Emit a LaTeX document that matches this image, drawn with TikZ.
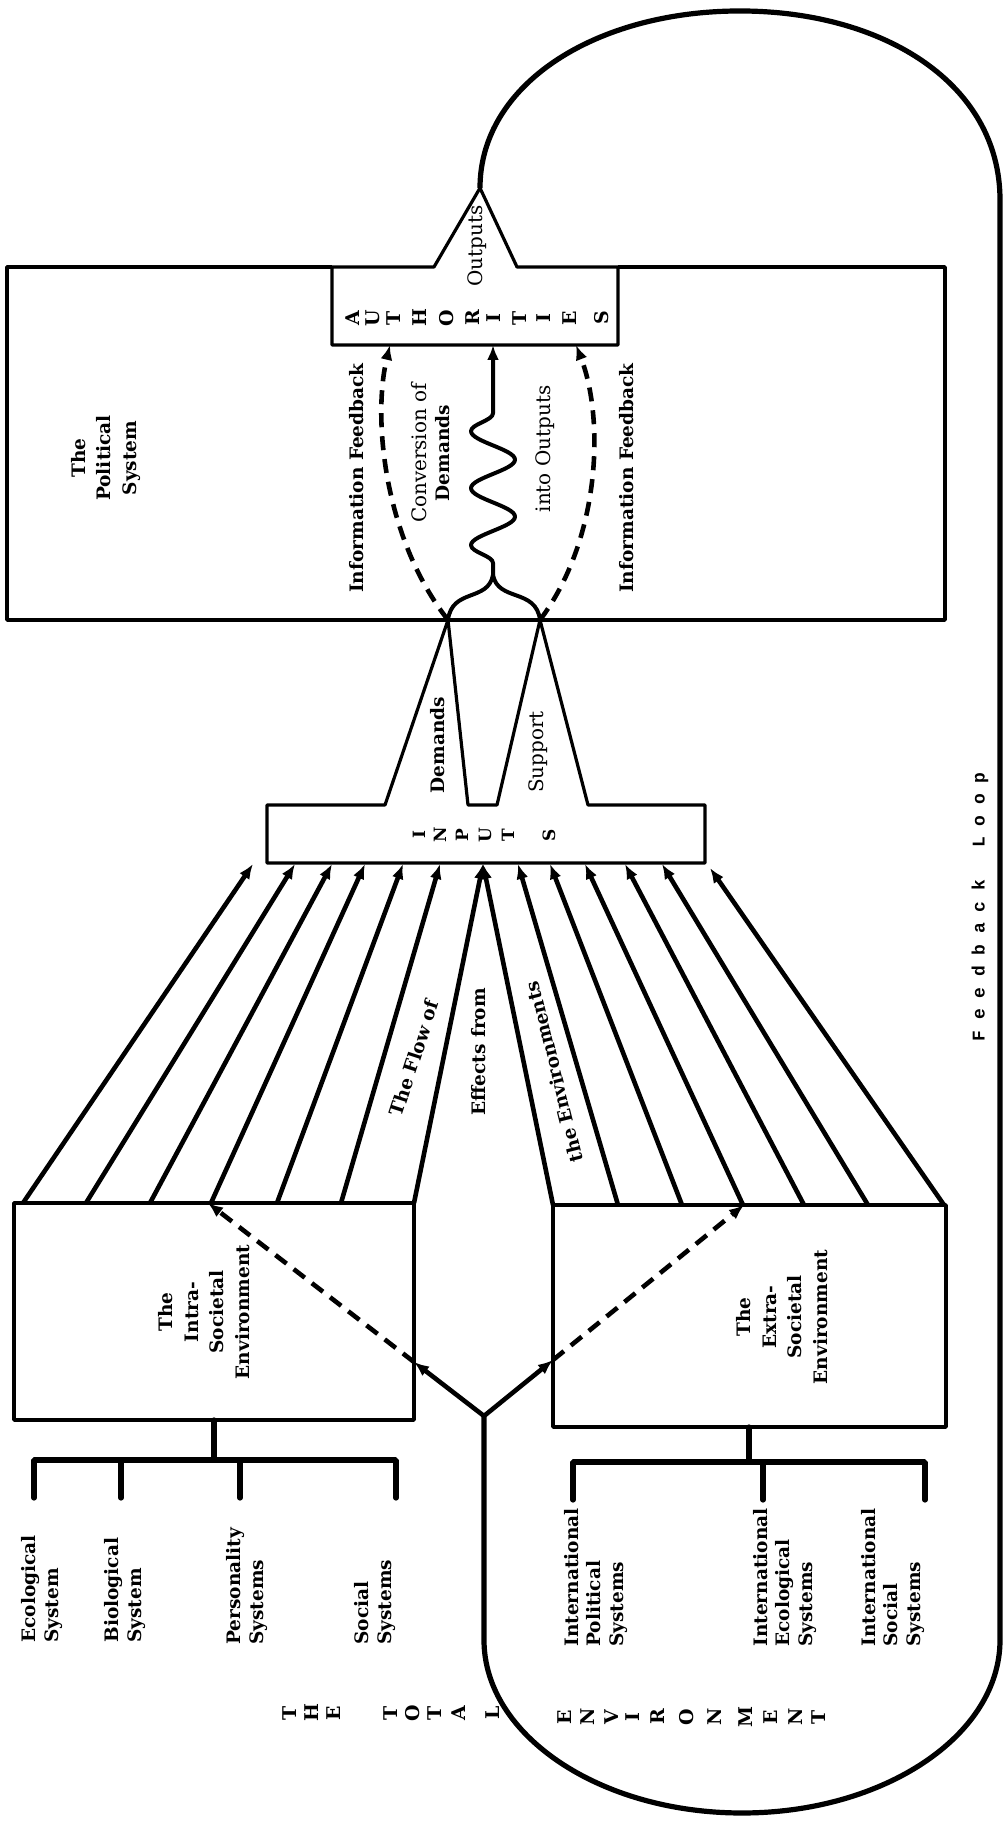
\documentclass[tikz,border=0pt]{standalone}
\usepackage{fontspec}
\setmainfont{DejaVu Serif}
\newfontfamily\loopfont{Liberation Mono}
\usetikzlibrary{arrows.meta,decorations.pathmorphing}

\begin{document}
\begin{tikzpicture}[>={Latex[length=7.5bp,width=6bp]},line join=bevel,
  boxline/.style={line width=1.6bp},
  loopline/.style={line width=2.6bp},
  flow/.style={->,line width=2.3bp},
  fbdash/.style={->,line width=2.3bp,dash pattern=on 7bp off 4.5bp},
  bracket/.style={line width=2.6bp,line cap=round},
  lbl/.style={inner sep=0pt,align=center,font=\fontsize{9.3}{11.5}\selectfont\bfseries},
  thinlbl/.style={inner sep=0pt,align=center,font=\fontsize{10}{11.5}\selectfont},
  sidelbl/.style={lbl,rotate=90,anchor=west,align=left},
  boxlbl/.style={lbl,rotate=90,font=\fontsize{9.3}{12.8}\selectfont\bfseries},
  bigcap/.style={inner sep=0pt,rotate=90,font=\fontsize{9.5}{9.5}\selectfont\bfseries},
  smallcap/.style={inner sep=0pt,rotate=90,font=\fontsize{8.5}{8.5}\selectfont\bfseries},
]
  \useasboundingbox (0bp,0bp) rectangle (502bp,913bp);
%%
  % Node: polsys
  \draw [boxline] (166bp,779.5bp) -- (3.5bp,779.5bp) -- (3.5bp,603bp) -- (472.5bp,603bp) -- (472.5bp,779.5bp) -- (309bp,779.5bp);
  \node [boxlbl] (polsys) at (53bp,684bp) {The\\Political\\System};
  % Node: auth
  \coordinate (outapex) at (240bp,819bp);
  \draw [boxline] (outapex) -- (258.5bp,779.5bp) -- (309bp,779.5bp) -- (309bp,740.5bp) -- (166bp,740.5bp) -- (166bp,779.5bp) -- (217bp,779.5bp) -- cycle;
  \node [bigcap] (au1) at (176.5bp,754bp) {A};
  \node [bigcap] (au2) at (186.5bp,754bp) {U};
  \node [bigcap] (au3) at (197bp,754bp) {T};
  \node [bigcap] (au4) at (210bp,754bp) {H};
  \node [bigcap] (au5) at (223.5bp,754bp) {O};
  \node [bigcap] (au6) at (236.5bp,754bp) {R};
  \node [bigcap] (au7) at (247bp,754bp) {I};
  \node [bigcap] (au8) at (260bp,754bp) {T};
  \node [bigcap] (au9) at (272bp,754bp) {I};
  \node [bigcap] (au10) at (285bp,754bp) {E};
  \node [bigcap] (au11) at (301bp,754bp) {S};
  \node [thinlbl,rotate=90] (outlbl) at (238.5bp,790bp) {Outputs};
  % Node: inputs
  \coordinate (dapex) at (224bp,603bp);
  \coordinate (sapex) at (270bp,603bp);
  \draw [boxline] (133.5bp,481.5bp) -- (133.5bp,510.5bp) -- (192.5bp,510.5bp) -- (dapex) -- (234bp,510.5bp) -- (248.5bp,510.5bp) -- (sapex) -- (294bp,510.5bp) -- (352.5bp,510.5bp) -- (352.5bp,481.5bp) -- cycle;
  \node [smallcap] (in1) at (209.5bp,495.5bp) {I};
  \node [smallcap] (in2) at (220bp,495.5bp) {N};
  \node [smallcap] (in3) at (231bp,495.5bp) {P};
  \node [smallcap] (in4) at (242.5bp,495.5bp) {U};
  \node [smallcap] (in5) at (254bp,495.5bp) {T};
  \node [smallcap] (in6) at (274.5bp,495.5bp) {S};
  \node [lbl,rotate=90] (demlbl) at (219bp,540.5bp) {Demands};
  \node [thinlbl,rotate=90] (suplbl) at (269bp,537bp) {Support};
  % Edge: inputs -> auth (conversion)
  \coordinate (junc) at (246.5bp,625.5bp);
  \coordinate (authconv) at (246.5bp,740.5bp);
  \coordinate (authfbl) at (195bp,740.5bp);
  \coordinate (authfbr) at (288bp,740.5bp);
  \draw [line width=2bp] (dapex) .. controls (226bp,619bp) and (244bp,612bp) .. (junc);
  \draw [line width=2bp] (sapex) .. controls (268bp,619bp) and (249bp,612bp) .. (junc);
  \draw [->,line width=2bp,decorate,decoration={snake,segment length=28.5bp,amplitude=11bp,pre length=6bp,post length=23.5bp}] (junc) -- (authconv);
  % Edge: inputs -> auth (feedback)
  \draw [fbdash] (dapex) .. controls (192.5bp,643bp) and (186bp,703bp) .. (authfbl);
  \draw [fbdash] (sapex) .. controls (300bp,643bp) and (302.5bp,703bp) .. (authfbr);
  \node [lbl,rotate=90] (infol) at (178.5bp,674bp) {Information Feedback};
  \node [lbl,rotate=90] (infor) at (313.5bp,674bp) {Information Feedback};
  \node [thinlbl,rotate=90] (convlbl) at (215.5bp,686.5bp) {Conversion of\\\textbf{\fontsize{9.3}{11.5}\selectfont Demands}};
  \node [thinlbl,rotate=90] (intolbl) at (272.5bp,688.5bp) {into Outputs};
  % Node: intra
  \draw [boxline] (7bp,311.5bp) rectangle (207bp,203bp);
  \node [boxlbl] (intralbl) at (102bp,257bp) {The\\Intra-\\Societal\\Environment};
  % Node: extra
  \draw [boxline] (276.5bp,310.5bp) rectangle (473bp,199.5bp);
  \node [boxlbl] (extralbl) at (391bp,254.5bp) {The\\Extra-\\Societal\\Environment};
  % Edge: intra -> inputs
  \coordinate (ia1) at (11.5bp,311.5bp);   \coordinate (ib1) at (126.5bp,481bp);
  \coordinate (ia2) at (43bp,311.5bp);     \coordinate (ib2) at (147.5bp,481bp);
  \coordinate (ia3) at (75bp,311.5bp);     \coordinate (ib3) at (166bp,481bp);
  \coordinate (ia4) at (105.5bp,311.5bp);  \coordinate (ib4) at (182.5bp,481bp);
  \coordinate (ia5) at (138.5bp,311.5bp);  \coordinate (ib5) at (201.5bp,481bp);
  \coordinate (ia6) at (170.5bp,311.5bp);  \coordinate (ib6) at (220bp,481bp);
  \coordinate (ia7) at (207bp,311.5bp);    \coordinate (inmid) at (241.5bp,481bp);
  \draw [flow] (ia1) -- (ib1);
  \draw [flow] (ia2) -- (ib2);
  \draw [flow] (ia3) -- (ib3);
  \draw [flow] (ia4) -- (ib4);
  \draw [flow] (ia5) -- (ib5);
  \draw [flow] (ia6) -- (ib6);
  \draw [flow] (ia7) -- (inmid);
  % Edge: extra -> inputs
  \coordinate (ea7) at (276.5bp,310.5bp);
  \coordinate (ea1) at (309bp,310.5bp);    \coordinate (eb1) at (259bp,481bp);
  \coordinate (ea2) at (341bp,310.5bp);    \coordinate (eb2) at (275bp,481bp);
  \coordinate (ea3) at (371.5bp,310.5bp);  \coordinate (eb3) at (292.5bp,481bp);
  \coordinate (ea4) at (402bp,310.5bp);    \coordinate (eb4) at (312.5bp,481bp);
  \coordinate (ea5) at (434bp,310.5bp);    \coordinate (eb5) at (331bp,481bp);
  \coordinate (ea6) at (472bp,310.5bp);    \coordinate (eb6) at (355bp,479bp);
  \draw [flow] (ea7) -- (inmid);
  \draw [flow] (ea1) -- (eb1);
  \draw [flow] (ea2) -- (eb2);
  \draw [flow] (ea3) -- (eb3);
  \draw [flow] (ea4) -- (eb4);
  \draw [flow] (ea5) -- (eb5);
  \draw [flow] (ea6) -- (eb6);
  \node [lbl,rotate=72] (flowlbl) at (207bp,384bp) {The Flow of};
  \node [lbl,rotate=90] (effectslbl) at (239.5bp,387bp) {Effects from};
  \node [lbl,rotate=104] (envlbl) at (277bp,377bp) {the Environments};
  % Edge: auth -> fork (feedback loop)
  \coordinate (fork) at (242bp,205bp);
  \draw [loopline] (outapex) .. controls (240bp,871bp) and (298bp,907.5bp) .. (370bp,907.5bp) .. controls (442bp,907.5bp) and (500bp,871bp) .. (500bp,813bp) -- (500bp,93bp) .. controls (500bp,45.3bp) and (442bp,6.5bp) .. (371bp,6.5bp) .. controls (300bp,6.5bp) and (242bp,45.3bp) .. (242bp,93bp) -- (fork);
  \node [rotate=90,inner sep=0pt,font=\loopfont\fontsize{9}{9}\selectfont\bfseries] (fbloop) at (490bp,459.5bp) {F e e d b a c k \ \ L o o p};
  % Edge: fork -> intra, fork -> extra
  \coordinate (intraedge) at (207bp,232bp);
  \coordinate (extraedge) at (276.5bp,233bp);
  \coordinate (intratop) at (104bp,311.5bp);
  \coordinate (extratop) at (372bp,310.5bp);
  \draw [flow] (fork) -- (intraedge);
  \draw [fbdash] (intraedge) -- (intratop);
  \draw [flow] (fork) -- (extraedge);
  \draw [fbdash] (extraedge) -- (extratop);
  % Node: intra subsystems
  \draw [bracket] (107bp,203bp) -- (107bp,183bp);
  \draw [bracket] (17bp,164bp) -- (17bp,183bp) -- (198bp,183bp) -- (198bp,164bp);
  \draw [bracket] (60.5bp,183bp) -- (60.5bp,164bp);
  \draw [bracket] (120bp,183bp) -- (120bp,164bp);
  \node [sidelbl] (eco) at (21bp,91.5bp) {Ecological\\System};
  \node [sidelbl] (bio) at (62.5bp,91.5bp) {Biological\\System};
  \node [sidelbl] (pers) at (123.5bp,90.5bp) {Personality\\Systems};
  \node [sidelbl] (soc) at (187.5bp,90.5bp) {Social\\Systems};
  % Node: extra subsystems
  \draw [bracket] (374.5bp,199.5bp) -- (374.5bp,182bp);
  \draw [bracket] (286.5bp,163bp) -- (286.5bp,182bp) -- (462.5bp,182bp) -- (462.5bp,163bp);
  \draw [bracket] (381.5bp,182bp) -- (381.5bp,163bp);
  \node [sidelbl] (intpol) at (298bp,89.5bp) {International\\Political\\Systems};
  \node [sidelbl] (inteco) at (392.5bp,89.5bp) {International\\Ecological\\Systems};
  \node [sidelbl] (intsoc) at (446.5bp,89.5bp) {International\\Social\\Systems};
  % Node: total environment
  \node [bigcap] (te1) at (145bp,56.5bp) {T};
  \node [bigcap] (te2) at (156bp,56.5bp) {H};
  \node [bigcap] (te3) at (167bp,56.5bp) {E};
  \node [bigcap] (te4) at (195.5bp,56.5bp) {T};
  \node [bigcap] (te5) at (206.5bp,56.5bp) {O};
  \node [bigcap] (te6) at (217.5bp,56.5bp) {T};
  \node [bigcap] (te7) at (229.5bp,56.5bp) {A};
  \node [bigcap] (te8) at (246.5bp,56.5bp) {L};
  \node [bigcap] (te9) at (282.5bp,54.5bp) {E};
  \node [bigcap] (te10) at (294bp,54.5bp) {N};
  \node [bigcap] (te11) at (306bp,54.5bp) {V};
  \node [bigcap] (te12) at (316.5bp,54.5bp) {I};
  \node [bigcap] (te13) at (329bp,54.5bp) {R};
  \node [bigcap] (te14) at (343.5bp,54.5bp) {O};
  \node [bigcap] (te15) at (357.5bp,54.5bp) {N};
  \node [bigcap] (te16) at (373bp,54.5bp) {M};
  \node [bigcap] (te17) at (385.5bp,54.5bp) {E};
  \node [bigcap] (te18) at (398bp,54.5bp) {N};
  \node [bigcap] (te19) at (409.5bp,54.5bp) {T};
%
\end{tikzpicture}
\end{document}
